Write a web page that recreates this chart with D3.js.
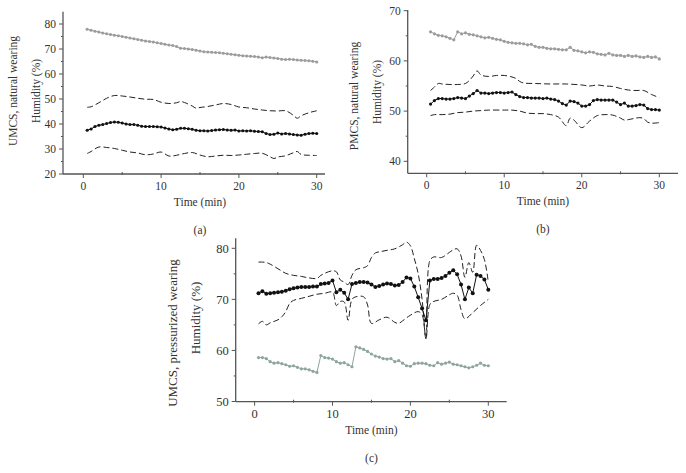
<!DOCTYPE html>
<html><head><meta charset="utf-8">
<script src="https://cdn.jsdelivr.net/npm/d3@7/dist/d3.min.js"></script>
<style>
html,body{margin:0;padding:0;background:#fff;}
svg{display:block;}
text{font-family:"Liberation Serif","Times New Roman",Times,serif;fill:#333;}
</style></head>
<body>
<svg id="chart" width="686" height="473"></svg>
<script>
// ---------- DATA ----------
const timeMin = [0.5,1,1.5,2,2.5,3,3.5,4,4.5,5,5.5,6,6.5,7,7.5,8,8.5,9,9.5,10,
  10.5,11,11.5,12,12.5,13,13.5,14,14.5,15,15.5,16,16.5,17,17.5,18,18.5,19,19.5,20,
  20.5,21,21.5,22,22.5,23,23.5,24,24.5,25,25.5,26,26.5,27,27.5,28,28.5,29,29.5,30];
const xTickLabels = [0,10,20,30];

// (a) UMCS, natural wearing
const aYTicks = [20,30,40,50,60,70,80];
const aGray = [77.9,77.5,77.1,76.8,76.4,76.1,75.8,75.5,75.3,75.0,74.7,74.4,74.1,73.8,73.5,73.2,73.0,72.8,72.5,72.2,
  71.9,71.6,71.4,71.0,70.3,70.2,70.0,69.8,69.5,69.2,68.9,68.8,68.7,68.6,68.5,68.3,68.1,67.9,67.7,67.5,
  67.3,67.2,67.1,67.0,66.8,66.5,66.8,66.6,66.4,66.2,65.9,65.8,65.9,65.8,65.6,65.5,65.4,65.3,65.1,64.8];
const aMean = [37.5,38.0,39.0,39.5,39.8,40.2,40.6,40.8,40.7,40.4,40.0,39.8,39.8,39.5,39.1,39.0,39.0,39.0,38.9,38.8,
  38.4,38.0,37.7,37.9,38.3,38.3,38.1,37.9,37.5,37.3,37.3,37.2,37.4,37.6,37.7,37.8,37.6,37.5,37.6,37.2,
  37.3,37.2,37.3,37.1,37.0,36.9,36.2,35.8,35.9,36.4,36.0,36.2,36.0,35.8,35.6,35.5,35.9,36.2,36.3,36.2];
const aUpperT = [0.5,1,2,3,4,5,6,7,8,9,10,11,12,12.5,13,14,14.5,15,16,17,18,19,20,21,22,23,24,25,26,27,27.5,28,29,30];
const aUpper  = [46.7,46.9,48.5,50.3,51.4,51.2,50.8,50.3,49.9,49.8,48.7,48.2,48.5,49.0,48.6,47.2,46.3,46.6,47.0,47.6,48.2,47.8,46.8,46.5,46.0,45.6,45.3,45.2,45.3,43.5,42.3,43.3,44.5,45.3];
const aLowerT = [0.5,1,2,3,4,5,6,7,8,9,10,11,12,13,14,15,16,17,18,19,20,21,22,23,24,24.5,25,26,27,27.5,28,29,30];
const aLower  = [28.2,29.0,30.8,30.6,30.2,29.5,28.8,28.4,27.7,28.0,28.8,27.2,27.5,28.2,28.6,27.6,26.9,27.2,27.5,27.4,27.6,27.9,28.2,28.3,26.9,26.2,26.8,27.3,28.5,29.0,27.8,27.5,27.4];

// (b) PMCS, natural wearing
const bYTicks = [40,50,60,70];
const bGray = [65.8,65.4,65.1,65.0,64.8,64.5,64.2,65.8,65.4,65.6,65.3,65.2,65.0,64.8,64.6,64.7,64.5,64.3,64.2,63.9,
  63.7,63.6,63.5,63.5,63.4,63.2,63.3,62.9,62.7,62.7,62.5,62.4,62.4,62.3,62.2,62.2,62.7,62.1,62.0,61.8,
  61.6,61.8,61.7,61.4,61.3,61.2,61.5,61.2,61.1,61.1,60.9,61.1,60.9,61.0,60.8,60.7,60.9,60.7,60.8,60.4];
const bMean = [51.4,52.1,52.5,52.5,52.4,52.4,52.5,52.7,52.6,52.5,53.0,53.5,54.1,53.6,53.6,53.5,53.6,53.7,53.7,53.6,
  53.7,53.8,53.3,52.9,52.7,52.7,52.6,52.6,52.6,52.5,52.6,52.4,52.3,52.0,51.5,51.2,52.0,51.9,51.6,51.0,
  51.0,51.3,52.1,52.3,52.2,52.2,52.2,52.2,51.8,51.3,51.6,51.0,51.0,51.1,51.3,51.2,50.5,50.3,50.3,50.2];
const bUpperT = [0.5,1,1.5,2,3,4,5,5.5,6,6.5,7,8,9,10,11,11.5,12,12.5,14,16,18,20,21,22,23,24,25,26,27,28,29,30];
const bUpper  = [54.1,54.8,55.5,55.4,55.3,55.3,55.5,56.1,57.0,58.0,57.2,56.9,57.1,57.1,56.8,56.5,55.9,55.6,55.5,55.4,55.4,55.2,55.0,55.2,55.0,54.9,54.5,54.2,54.1,54.1,53.3,52.7];
const bLowerT = [0.5,1,2,3,4,5,6,7,8,10,11,12,13,14,15,16,17,18,18.5,19,20,21,22,23,24,25,25.5,26,27,27.5,28,28.5,29,30];
const bLower  = [49.1,49.3,49.3,49.4,49.7,49.8,50.0,50.1,50.2,50.2,50.2,50.0,49.6,49.5,49.5,49.3,48.8,47.1,48.6,48.2,46.7,48.0,49.1,49.3,49.2,48.6,48.2,48.3,48.6,48.7,48.5,47.8,47.6,47.7];

// (c) UMCS, pressurized wearing
const cYTicks = [50,60,70,80];
const cGray = [58.6,58.6,58.4,57.8,57.5,57.6,57.4,57.2,56.9,57.0,56.7,56.4,56.4,56.2,55.9,55.7,59.0,58.6,58.5,58.3,
  57.8,57.5,57.6,57.2,56.8,60.7,60.5,60.2,59.8,59.3,58.9,58.7,58.4,58.3,58.4,57.8,58.0,57.5,57.0,56.9,
  57.4,57.5,57.5,57.4,57.1,57.0,57.6,57.3,57.5,57.7,57.3,57.2,57.0,56.8,56.6,56.8,57.1,57.5,57.1,57.0];
const cMean = [71.2,71.6,71.1,71.2,71.3,71.4,71.5,71.7,72.0,72.2,72.3,72.4,72.4,72.4,72.5,72.5,73.0,73.1,73.2,73.7,
  71.4,71.9,71.3,70.0,73.0,73.2,73.4,73.4,73.3,72.9,72.4,72.6,72.9,73.1,73.0,72.7,72.8,73.4,74.3,74.1,
  72.5,70.4,68.2,65.9,73.7,74.0,74.0,74.2,74.6,75.2,75.7,74.9,72.9,70.0,72.3,71.2,74.8,74.6,73.9,71.9];
const cUpperT = [0.5,1,1.5,2,3,4,5,6,7,8,8.5,9,10,10.5,11,11.5,12,12.5,13,14,14.5,15,15.5,16,17,18,19,19.5,20,20.5,21,21.5,22,22.5,23,24,25,25.5,26,26.5,27,27.5,28,28.5,29,29.5,30];
const cUpper  = [77.3,77.3,77.2,76.9,76.0,75.1,74.7,74.5,74.2,74.1,74.7,75.1,75.6,75.4,73.8,73.4,72.9,74.7,75.8,76.2,76.6,78.2,79.1,79.3,79.6,79.9,80.7,81.2,80.5,78.0,75.0,70.0,62.3,77.6,78.3,78.2,79.2,79.7,79.9,78.5,74.3,77.2,75.3,80.6,79.6,77.8,73.4];
const cLowerT = [0.5,1,1.5,2,3,3.5,4,4.5,5,6,7,8,9,10,10.5,11,11.5,12,12.5,13,14,14.5,15,16,17,18,18.5,19,20,21,21.5,22,22.5,23,24,25,25.5,26,26.5,27,28,29,30];
const cLower  = [65.2,65.7,65.0,65.4,66.0,66.6,67.6,69.2,69.8,70.2,70.6,71.0,71.2,71.4,68.8,69.6,69.5,65.9,70.0,70.5,70.5,68.9,65.3,66.0,66.5,65.5,65.3,65.8,66.9,67.6,67.0,62.3,69.0,69.6,70.0,70.9,71.2,70.8,68.0,66.2,67.4,68.8,70.0];

// ---------- DRAW ----------
const svg = d3.select("#chart");

function panel(cfg){
  const g = svg.append("g");
  const x = d3.scaleLinear().domain([0,30]).range([cfg.x0, cfg.x30]);
  const y = d3.scaleLinear().domain([cfg.yv1, cfg.yv2]).range([cfg.yp1, cfg.yp2]);
  const axisColor = "#555";
  const F = cfg.font;
  g.append("line").attr("x1",cfg.left).attr("x2",cfg.left).attr("y1",cfg.top).attr("y2",cfg.bottom)
    .attr("stroke",axisColor).attr("stroke-width",1.3);
  g.append("line").attr("x1",cfg.left).attr("x2",cfg.right).attr("y1",cfg.bottom).attr("y2",cfg.bottom)
    .attr("stroke",axisColor).attr("stroke-width",1.3);
  const yt = cfg.yTicks;
  yt.forEach(v=>{
    g.append("line").attr("x1",cfg.left-4).attr("x2",cfg.left).attr("y1",y(v)).attr("y2",y(v)).attr("stroke",axisColor);
    g.append("text").attr("x",cfg.left-7).attr("y",y(v)).attr("dy","0.35em").attr("text-anchor","end")
      .attr("font-size",cfg.tickFont).text(v);
  });
  for(let i=0;i<yt.length-1;i++){
    const m=(yt[i]+yt[i+1])/2;
    g.append("line").attr("x1",cfg.left-2).attr("x2",cfg.left).attr("y1",y(m)).attr("y2",y(m)).attr("stroke",axisColor);
  }
  xTickLabels.forEach(v=>{
    g.append("line").attr("x1",x(v)).attr("x2",x(v)).attr("y1",cfg.bottom).attr("y2",cfg.bottom+4).attr("stroke",axisColor);
    g.append("text").attr("x",x(v)).attr("y",cfg.bottom+16).attr("text-anchor","middle")
      .attr("font-size",cfg.tickFont).text(v);
  });
  for(let i=0;i<xTickLabels.length-1;i++){
    const m=(xTickLabels[i]+xTickLabels[i+1])/2;
    g.append("line").attr("x1",x(m)).attr("x2",x(m)).attr("y1",cfg.bottom-2).attr("y2",cfg.bottom+1).attr("stroke",axisColor);
  }
  const xc = x(15);
  g.append("text").attr("x",xc).attr("y",cfg.bottom+32).attr("text-anchor","middle").attr("font-size",F).text("Time (min)");
  g.append("text").attr("x",xc).attr("y",cfg.bottom+60).attr("text-anchor","middle").attr("font-size",F).text(cfg.letter);
  g.append("text").attr("transform",`translate(${cfg.yt1x},${cfg.yt1y}) rotate(-90)`).attr("text-anchor","middle")
    .attr("font-size",cfg.ytFont).text(cfg.ytitle1);
  g.append("text").attr("transform",`translate(${cfg.yt2x},${cfg.yt2y}) rotate(-90)`).attr("text-anchor","middle")
    .attr("font-size",cfg.ytFont).text("Humidity (%)");

  const dline = d3.line().x(d=>x(d[0])).y(d=>y(d[1])).curve(d3.curveCatmullRom.alpha(0.5));
  [[cfg.upT,cfg.up],[cfg.loT,cfg.lo]].forEach(([tt,vv])=>{
    g.append("path").attr("d",dline(tt.map((t,i)=>[t,vv[i]]))).attr("fill","none")
      .attr("stroke","#222").attr("stroke-width",1).attr("stroke-dasharray","6,3");
  });
  const lin = d3.line().x(d=>x(d[0])).y(d=>y(d[1]));
  const gd = timeMin.map((t,i)=>[t,cfg.gray[i]]);
  g.append("path").attr("d",lin(gd)).attr("fill","none").attr("stroke",cfg.grayColor).attr("stroke-width",1);
  g.selectAll(null).data(gd).enter().append("circle").attr("cx",d=>x(d[0])).attr("cy",d=>y(d[1]))
    .attr("r",1.6).attr("fill",cfg.grayColor);
  const md = timeMin.map((t,i)=>[t,cfg.mean[i]]);
  g.append("path").attr("d",lin(md)).attr("fill","none").attr("stroke","#111").attr("stroke-width",1);
  g.selectAll(null).data(md).enter().append("circle").attr("cx",d=>x(d[0])).attr("cy",d=>y(d[1]))
    .attr("r",cfg.meanR).attr("fill","#111");
}

panel({left:63,right:325,top:11.7,bottom:174,x0:83.3,x30:316.7,yv1:20,yp1:174,yv2:80,yp2:24,
  yTicks:aYTicks,tickFont:11.5,font:11.5,ytFont:11.5,letter:"(a)",ytitle1:"UMCS, natural wearing",
  yt1x:17,yt1y:91,yt2x:40,yt2y:91,
  gray:aGray,grayColor:"#9c9c9c",mean:aMean,meanR:1.6,upT:aUpperT,up:aUpper,loT:aLowerT,lo:aLower});
panel({left:407.7,right:678,top:10,bottom:173.3,x0:426.7,x30:659.3,yv1:40,yp1:161.3,yv2:70,yp2:10.7,
  yTicks:bYTicks,tickFont:11.5,font:11.5,ytFont:11.5,letter:"(b)",ytitle1:"PMCS, natural wearing",
  yt1x:358,yt1y:96,yt2x:381,yt2y:92,
  gray:bGray,grayColor:"#9c9c9c",mean:bMean,meanR:1.6,upT:bUpperT,up:bUpper,loT:bLowerT,lo:bLower});
panel({left:235.7,right:506.7,top:238.3,bottom:401.7,x0:254.6,x30:488.3,yv1:50,yp1:401.5,yv2:80,yp2:248.3,
  yTicks:cYTicks,tickFont:12.5,font:11.5,ytFont:13,letter:"(c)",ytitle1:"UMCS, pressurized wearing",
  yt1x:177,yt1y:333,yt2x:200,yt2y:318,
  gray:cGray,grayColor:"#8ea59f",mean:cMean,meanR:2,upT:cUpperT,up:cUpper,loT:cLowerT,lo:cLower});
</script>
</body></html>
